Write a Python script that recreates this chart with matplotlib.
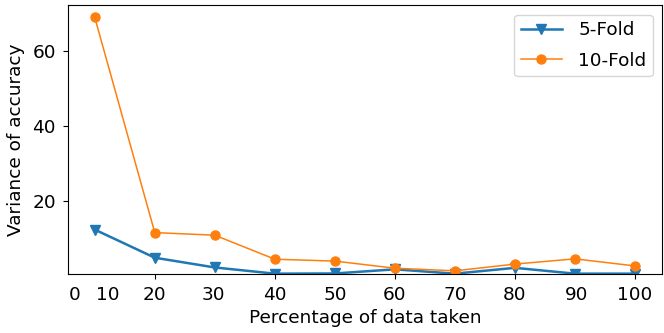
import matplotlib.pyplot as plt

# variance of accuracy vs. percentage of data used
pct = [10, 20, 30, 40, 50, 60, 70, 80, 90, 100]
var_5fold = [12.3, 4.8, 2.2, 0.55, 0.6, 1.7, 0.55, 2.1, 0.55, 0.55]
var_10fold = [68.9, 11.5, 10.8, 4.4, 3.9, 2.0, 1.3, 3.1, 4.5, 2.6]

# extra x labels (no tick marks)
extra_pos = [6.7, 12.2, 29.7, 50, 70, 90.2]
extra_lbl = ['0', '10', '30', '50', '70', '90']

fs = 13.3

fig = plt.figure(figsize=(6.64, 3.33), dpi=100)
ax = fig.add_axes([0.102, 0.178, 0.895, 0.806])

ax.plot(pct, var_5fold, marker='v', markersize=6.5, linewidth=1.8, color='tab:blue', label='5-Fold')
ax.plot(pct, var_10fold, marker='o', markersize=6.5, linewidth=1.1, color='tab:orange', label='10-Fold')

ax.set_xlim(5.5, 104.5)
ax.set_ylim(0.53, 72.1)
ax.set_xticks([20, 40, 60, 80, 100])
ax.set_yticks([20, 40, 60])
ax.set_xticks(extra_pos, minor=True)
ax.set_xticklabels(extra_lbl, minor=True)
ax.tick_params(axis='both', which='both', labelsize=fs)
ax.tick_params(axis='x', which='major', pad=5)
ax.tick_params(axis='x', which='minor', length=0, pad=8.5)
ax.tick_params(axis='y', pad=5)

ax.set_xlabel('Percentage of data taken', fontsize=fs, labelpad=4)
ax.set_ylabel('Variance of accuracy', fontsize=fs, labelpad=5)
ax.legend(loc='upper right', fontsize=fs, labelspacing=0.7, borderpad=0.35,
          handlelength=2.2, handletextpad=0.9)

plt.savefig('out.png', dpi=100)
